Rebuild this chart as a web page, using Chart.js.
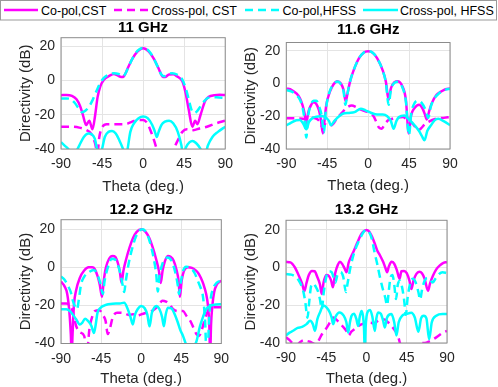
<!DOCTYPE html>
<html>
<head>
<meta charset="utf-8">
<script src="https://cdn.jsdelivr.net/npm/chart.js@4.4.0/dist/chart.umd.min.js"></script>
<style>
  html, body { margin: 0; padding: 0; background: #fff; overflow: hidden; }
  body { width: 498px; height: 387px; position: relative; }
  canvas { position: absolute; }
  #legend { position: absolute; left: 0; top: 0; font-family: "Liberation Sans", Arial, sans-serif; }
</style>
</head>
<body>
<canvas id="p1" width="240" height="200" style="left:0;top:0"></canvas>
<canvas id="p2" width="258" height="200" style="left:240px;top:0"></canvas>
<canvas id="p3" width="240" height="196" style="left:0;top:193px"></canvas>
<canvas id="p4" width="258" height="196" style="left:240px;top:193px"></canvas>
<svg id="legend" width="498" height="22">
  <rect x="0.5" y="0.5" width="496" height="19.5" fill="#fff" stroke="#9a9a9a"/>
  <line x1="4" y1="10" x2="38" y2="10" stroke="#ff00ff" stroke-width="2.4"/>
  <text x="41" y="15" font-size="12.5">Co-pol,CST</text>
  <line x1="114" y1="10" x2="148" y2="10" stroke="#ff00ff" stroke-width="2.4" stroke-dasharray="8 5"/>
  <text x="151.5" y="15" font-size="12.5">Cross-pol, CST</text>
  <line x1="245" y1="10" x2="280" y2="10" stroke="#00ffff" stroke-width="2.4" stroke-dasharray="8 5"/>
  <text x="282.5" y="15" font-size="12.5">Co-pol,HFSS</text>
  <line x1="363" y1="10" x2="398" y2="10" stroke="#00ffff" stroke-width="2.4"/>
  <text x="400" y="15" font-size="12.5">Cross-pol, HFSS</text>
</svg>
<script>
// axes
const thetaTicks = [-90, -45, 0, 45, 90];
const dbTicks = [-40, -20, 0, 20];
const titles = ['11 GHz', '11.6 GHz', '12.2 GHz', '13.2 GHz'];
const seriesNames = ['Co-pol,CST', 'Cross-pol, CST', 'Co-pol,HFSS', 'Cross-pol, HFSS'];

// [theta deg, directivity dB]
// 11 GHz
const coCst11 = [[-90,-8.6],[-84,-8.4],[-78,-9],[-73,-11],[-69,-15],[-66,-20],[-62.5,-26],[-59,-23.5],[-55.5,-28.5],[-52.5,-20],[-50,-10],[-47,-3.5],[-43,0.5],[-37,2.7],[-32,3.8],[-28,3],[-24,2],[-21,2.5],[-17,7],[-12,12.5],[-6,17],[0,18.8],[6,17],[12,12.5],[17,7],[21,2.5],[24,2],[28.5,3.5],[33,3.6],[37,2.5],[43,-0.4],[46.5,-7],[50,-17],[54,-27],[57,-23.5],[59.5,-25.5],[63,-20],[68,-12],[72,-9.5],[78,-8.6],[84,-8.3],[90,-8.5]];
const xCst11 = [[-90,-27],[-80,-27],[-70,-27.5],[-62,-29],[-57,-31],[-53,-36],[-50,-42],[-48,-33],[-45,-27.5],[-40,-25.5],[-30,-25.5],[-20,-25.5],[-13,-24.3],[-6,-23],[0,-23],[4,-24.5],[8,-29],[12,-35],[15,-40],[18,-44],[25,-44],[32,-41],[38,-35],[43,-30],[48,-28.5],[55,-29],[62,-28],[70,-27],[80,-25],[90,-23.5]];
const coHfss11 = [[-90,-10.5],[-84,-10.5],[-79,-11],[-75,-13],[-71,-16],[-67,-18.5],[-63,-17.5],[-59,-15],[-55,-11],[-51,-6],[-47,-1.5],[-43,1.5],[-37,3.5],[-32,4.3],[-27,3.8],[-23,2.5],[-20,3.5],[-16,8],[-11,13.5],[-6,17.5],[0,19],[6,17.5],[11,13.5],[16,8],[20,3.5],[23,2.5],[27,3.8],[32,4.3],[37,3.5],[43,0.5],[47,-5],[50,-11],[53,-17],[56,-19],[59,-18],[63,-15],[67,-12],[72,-10],[80,-9.8],[90,-10.2]];
const xHfss11 = [[-90,-36],[-86,-38],[-82,-40],[-78,-43],[-74,-42],[-70,-38],[-65,-33],[-60,-31],[-56,-31.5],[-53,-34],[-50,-41],[-48,-44],[-45,-40],[-42,-33],[-38,-30],[-34,-29.5],[-30,-31],[-26,-35],[-22,-40],[-19,-45],[-17,-40],[-14,-30],[-10,-25],[-5,-22],[0,-21],[5,-22],[10,-26],[13,-30],[15,-33],[17,-30],[20,-26],[24,-24],[28.5,-23.5],[33,-25],[38,-30],[42,-38],[44,-44],[47,-39],[51,-36],[54,-35.3],[58,-36.5],[63,-40],[67,-45],[71,-38],[76,-33],[82,-30],[90,-27]];

// 11.6 GHz
const coCst116 = [[-90,-3],[-84,-4],[-79,-6],[-75,-9],[-72,-13.5],[-70,-18],[-68,-24.5],[-66,-18],[-63.5,-14],[-60,-11.5],[-57,-12.5],[-54,-16.5],[-52,-22],[-49.8,-30.5],[-47.5,-20],[-46,-13],[-42,-5],[-38,-0.5],[-34,1.4],[-30,0],[-27,-4],[-24.7,-11],[-23,-7],[-20,1],[-16,8],[-10,15.5],[-5,18.8],[0,19.7],[5,18.8],[10,15.3],[16,8],[19.5,1],[22.5,-10],[25,-3],[29,0.8],[32.5,1.4],[37,-1],[41.5,-10],[44.6,-30.5],[47,-20],[51,-15],[56,-13],[60,-15.5],[62.5,-19],[64.5,-22],[67,-17],[70,-12],[75,-7],[80,-5],[85,-3.5],[90,-3.1]];
const xCst116 = [[-90,-21.3],[-80,-21.3],[-72,-21.5],[-67,-22],[-62,-21],[-57,-21.5],[-53,-23.5],[-50,-27],[-47,-25],[-43,-26],[-39,-25],[-34,-21],[-29,-18],[-24,-15],[-18,-13.4],[-13,-14.5],[-8,-16],[-3,-17],[2,-18],[6,-20],[9,-23.5],[12,-27],[15,-27.6],[18,-25],[22,-22.5],[27,-21.5],[33,-20.8],[38,-20.5],[43,-22],[47,-23.5],[51,-26],[55,-28.6],[58,-27.5],[62,-25],[66,-23.5],[75,-21.5],[83,-21],[90,-20.5]];
const coHfss116 = [[-90,-4],[-84,-5],[-79,-7],[-75,-10],[-72,-15],[-70,-22],[-68,-33],[-66,-20],[-63,-13],[-60,-10.5],[-57,-10.5],[-54,-14],[-51,-20],[-48.7,-30],[-46.5,-16],[-43,-6],[-38,-0.5],[-34,1.2],[-30,-0.5],[-27,-5],[-25,-13],[-23,-7],[-20,1],[-16,8],[-10,15.5],[-5,18.8],[0,19.7],[5,18.8],[10,15.3],[16,8],[19.5,0.5],[22.5,-13],[25,-4],[29,0.5],[32.5,1],[37,-1.5],[41.5,-11],[44.8,-31.5],[47.5,-18],[51,-12],[55,-10.5],[59,-12],[63,-16],[66,-21],[69,-14],[73,-9],[78,-6],[84,-4],[90,-3.2]];
const xHfss116 = [[-90,-25.6],[-85,-24],[-79,-22.5],[-75,-22.3],[-72,-24],[-70,-26],[-68,-28],[-65,-23.5],[-61,-21],[-57,-20.3],[-53,-20],[-50,-20],[-46,-21],[-43,-23],[-41,-25.5],[-38,-23.5],[-34,-21],[-28,-18.5],[-21,-18],[-15,-17.5],[-8,-15.4],[-3,-16.4],[3,-17.9],[10,-19],[16,-19],[21,-20],[25,-23],[28,-27.6],[31,-23],[34,-20.5],[40,-19.5],[45,-22],[51,-25.5],[56,-29],[59,-32],[62,-34.7],[65,-29],[69,-25.6],[73,-22.5],[77,-21.5],[83,-23],[90,-25.5]];

// 12.2 GHz
const coCst122 = [[-90,-7.5],[-86,-10],[-83,-14],[-80.5,-24],[-79,-35],[-78,-46],[-77,-35],[-75.5,-20],[-73,-12],[-69,-5.7],[-64,-1.7],[-59,0],[-55,0],[-52,-1],[-49,-4.5],[-46.5,-9],[-44,-15.5],[-42,-7],[-39.5,0],[-36,4.5],[-32,6],[-29,5.5],[-26,2],[-24,-2],[-22,-8.2],[-20,-2],[-17,4],[-13,10.5],[-9,15.5],[-5,18.6],[0,20],[5,18.6],[9,15.5],[13,10.5],[17,4],[20,-2],[22,-8.2],[24,-2],[26.5,3],[30,6],[33,5.5],[36.5,3.5],[39.5,-1],[42,-7],[43.5,-15.5],[45.5,-7],[48,-2],[52.5,0],[57,-0.3],[61,-1.5],[64,-3],[67,-5.5],[70,-9],[73,-14],[75,-20],[76.5,-30],[77.5,-46],[78.5,-30],[80,-20],[82,-13],[85,-9],[90,-7]];
const xCst122 = [[-90,-19],[-84,-19],[-80,-20],[-77,-23],[-73,-30.8],[-69,-34],[-64,-36],[-61,-45],[-58,-32],[-55,-26],[-52,-23],[-47,-22.5],[-43,-25],[-40,-28],[-37.5,-35],[-35.5,-33],[-32,-26.4],[-27,-23.8],[-20,-24],[-14,-25],[-9,-24.7],[-4,-25.5],[0,-24.7],[5,-24],[10,-23.5],[15,-22],[19,-20.3],[24,-17.5],[28,-18],[32,-19.5],[36,-22],[42,-23],[47,-23],[51,-25.6],[55,-28],[59,-32],[62,-35],[65,-36],[68,-33],[71,-28],[75,-23],[80,-21],[85,-21],[90,-21]];
const coHfss122 = [[-90,-4.8],[-86,-6.5],[-82,-9.9],[-79,-13],[-77,-17],[-74,-21],[-72,-22],[-70,-17],[-67.5,-9],[-64,-5],[-58,-2.3],[-53,-1.4],[-49,-4],[-46,-8],[-43,-14],[-41,-7],[-37,0.5],[-33,4.5],[-29,4],[-26,1],[-23,-4],[-20.5,-10],[-19,-13],[-17.5,-8],[-14,2],[-10,10],[-6,16],[-2,19.3],[2,20],[6,18],[10,13],[14,5],[17,-4],[18.7,-12.7],[20.5,-5],[24,2],[27,4.5],[30,5.2],[34,3.5],[38,-2],[41,-9],[42.5,-14],[44.5,-8],[47,-2],[50.6,0.3],[56,-0.5],[60,-3],[64,-7.5],[67,-11],[69,-14],[70.5,-20],[72,-30],[73,-42],[75,-42],[76,-30],[78,-17],[81,-11],[85,-8],[90,-7]];
const xHfss122 = [[-90,-22],[-84,-22],[-80,-23],[-77,-24.7],[-73,-27.3],[-69,-30],[-66,-29],[-63,-27],[-60,-28],[-56,-30.6],[-53,-34.5],[-51,-30],[-49,-23.8],[-45,-21],[-41,-20],[-37,-19.4],[-32,-19.1],[-24,-19],[-19,-18.6],[-15,-22],[-12,-26],[-9.4,-30],[-7,-25],[-4,-22],[0,-20.3],[4,-21.5],[7,-25],[9.4,-31],[12,-24],[15,-21],[17,-20.3],[20.6,-22],[23.5,-26],[25.5,-31],[27.5,-25],[30,-21.2],[34,-21.5],[38,-25],[41,-28.7],[44,-33],[47,-36],[50,-40],[54,-44],[58,-42],[62,-39],[66,-31],[69.5,-26],[73,-22],[79,-20],[84,-19.5],[90,-19.4]];

// 13.2 GHz
const coCst132 = [[-90,3],[-85,2.7],[-80,0],[-76,-4],[-72,-8.5],[-69.5,-12.5],[-67,-8],[-64.5,-4],[-61,-1.8],[-58,-2],[-55,-5],[-52,-9],[-50,-14],[-48,-8],[-45,-4],[-42,-4.5],[-39.5,-7],[-37.5,-10.5],[-35,-3],[-32,1.5],[-29.7,3],[-27,1.8],[-24.5,-0.5],[-22.3,-2.5],[-20,2.5],[-17,6],[-14,9],[-10,13.5],[-6,17.5],[-3,19.2],[0,19.9],[3,19],[6,16.5],[9,13],[12,9],[15,6.5],[18.6,3],[21,0],[23,-2.5],[25,0.5],[27.9,3],[31,2],[34,-1.5],[37,-6],[39,-2],[42,-1.8],[45,-3],[48,-7],[50.2,-11.4],[52.5,-7],[55.8,-3.4],[59,-2.3],[62,-3],[65,-6],[68.8,-12.3],[71,-8.5],[74.4,-4.3],[78,-1],[82,1.1],[86,2.5],[90,2.8]];
const xCst132 = [[-90,-37],[-86,-38.5],[-82,-40.5],[-78,-41],[-74,-39.5],[-70,-38.5],[-66,-39],[-62,-39.5],[-58,-40.5],[-54,-39],[-50,-35.5],[-46,-33],[-42,-30],[-39,-27.5],[-37,-26.5],[-34,-27.5],[-30,-29.5],[-26,-31.5],[-22,-34],[-20,-36],[-17,-34],[-13,-32.5],[-9,-31],[-5,-30],[0,-29.5],[4,-29.3],[8,-29.5],[12,-28.5],[16,-27.5],[20,-27.5],[24,-29],[28,-31],[32,-33.5],[35,-36],[38,-41],[42,-45],[48,-46],[54,-43],[59.5,-40],[65,-40],[70.7,-39],[78,-37],[85.5,-34.5],[90,-33.6]];
const coHfss132 = [[-90,-3.5],[-84,-3.8],[-79,-5],[-75,-7.5],[-71,-12],[-68.5,-18],[-66,-26.6],[-64,-18],[-62,-10],[-59.5,-8.5],[-57,-10],[-54,-13],[-52,-17],[-50,-22],[-48,-14],[-45,-5],[-42,-2],[-39,-2.5],[-37,-5],[-35,-8],[-32.5,-4],[-29,-2.5],[-26,-5],[-23,-13],[-21,-8],[-18,0],[-14,7.5],[-10,12.5],[-6,16.5],[-3,19],[0,20],[3,18.7],[6,15],[9,8],[12,1.8],[15,-5],[18,-11],[21,-16],[23,-20],[25,-12],[27,-5],[29,-4],[31,-9],[33,-16.7],[35,-9],[37.5,-7],[40,-11],[42,-17],[44,-25],[46,-16],[49,-8],[52,-6],[55,-8],[58,-13],[60,-17],[62,-12],[65,-7],[68,-5.5],[71,-6.5],[74,-8],[77,-6],[81,-3.5],[85,-2.5],[90,-3]];
const xHfss132 = [[-90,-36],[-86,-34.5],[-82,-33.5],[-77,-32],[-72,-31.5],[-67,-30],[-63,-28.2],[-60,-30],[-57.6,-33.6],[-55,-27.5],[-52,-23.8],[-48.3,-20.2],[-45,-21],[-41,-23.8],[-39,-26.5],[-37.2,-30],[-35,-26.5],[-30,-23.8],[-25.5,-25.5],[-22.5,-29],[-20.5,-34.5],[-18.5,-29],[-16.7,-25.6],[-14,-24.5],[-11.5,-27],[-9.3,-31],[-7.5,-26],[-5.6,-23],[-4,-25.5],[-2.8,-32],[-1.9,-45],[-1,-32],[0,-26],[1.9,-23],[4,-22.5],[6.5,-26],[9.3,-33.6],[11,-27],[13,-23.8],[16,-24.5],[18.5,-28],[20.5,-31.8],[23,-26.5],[27.9,-24.7],[31,-29],[33.5,-36],[36,-29],[40,-25.5],[44.6,-24.7],[50,-24],[54,-26.5],[58,-34],[61,-27],[64,-25.6],[67,-27],[70,-38],[73,-29],[78,-25.6],[85,-24.7],[90,-24.7]];

const panelSeries = [
    [coCst11, xCst11, coHfss11, xHfss11],
    [coCst116, xCst116, coHfss116, xHfss116],
    [coCst122, xCst122, coHfss122, xHfss122],
    [coCst132, xCst132, coHfss132, xHfss132]
];

// where each axes box sits inside its canvas
const panelLayout = [
    {id: 'p1', yw: 61,   pr: 13.5, tt: 18.5, tb: 1.2, xh: 51,   yt: 16.5, xb: 4.5},
    {id: 'p2', yw: 46.3, pr: 48,   tt: 21.3, tb: 3.2, xh: 51,   yt: 2,    xb: 5},
    {id: 'p3', yw: 61,   pr: 18.7, tt: 7.7,  tb: 1.0, xh: 45.5, yt: 16.5, xb: 1},
    {id: 'p4', yw: 46,   pr: 51,   tt: 7.7,  tb: 1.6, xh: 46,   yt: 2,    xb: 1.5}
];

const MAGENTA = '#ff00ff';
const CYAN = '#00ffff';
const DASH = [8, 5];
const TEXT = '#262626';

Chart.defaults.font.family = '"Liberation Sans", Arial, Helvetica, sans-serif';

// box round the axes, like matlab's "box on"
const frame = {
    id: 'frame',
    afterDatasetsDraw(chart) {
        const a = chart.chartArea;
        const ctx = chart.ctx;
        ctx.save();
        ctx.strokeStyle = '#8c8c8c';
        ctx.lineWidth = 1;
        ctx.strokeRect(a.left, a.top, a.right - a.left, a.bottom - a.top);
        ctx.restore();
    }
};

function pts(arr) {
    return arr.map(p => ({x: p[0], y: p[1]}));
}

panelLayout.forEach(function(lay, i) {
    const s = panelSeries[i];
    const ctx = document.getElementById(lay.id).getContext('2d');
    new Chart(ctx, {
        type: 'line',
        data: {
            datasets: [
                {label: seriesNames[0], data: pts(s[0]), borderColor: MAGENTA, order: 4},
                {label: seriesNames[1], data: pts(s[1]), borderColor: MAGENTA, borderDash: DASH, order: 3},
                {label: seriesNames[2], data: pts(s[2]), borderColor: CYAN, borderDash: DASH, order: 2},
                {label: seriesNames[3], data: pts(s[3]), borderColor: CYAN, order: 1}
            ]
        },
        options: {
            responsive: false,
            animation: false,
            layout: {padding: {left: 0, right: lay.pr, top: 0, bottom: 0}},
            elements: {
                point: {radius: 0},
                line: {borderWidth: 2.5, cubicInterpolationMode: 'monotone', fill: false, borderCapStyle: 'butt'}
            },
            plugins: {
                legend: {display: false},
                tooltip: {enabled: false},
                title: {
                    display: true,
                    text: titles[i],
                    fullSize: false,
                    color: '#000',
                    font: {size: 15, weight: 'bold'},
                    padding: {top: lay.tt, bottom: lay.tb}
                }
            },
            scales: {
                x: {
                    type: 'linear',
                    min: -90,
                    max: 90,
                    afterBuildTicks: sc => { sc.ticks = thetaTicks.map(v => ({value: v})); },
                    afterFit: sc => { sc.height = lay.xh; },
                    grid: {color: '#e4e4e4', drawTicks: false},
                    border: {display: false},
                    ticks: {color: TEXT, font: {size: 14}, padding: 7, maxRotation: 0, autoSkip: false},
                    title: {display: true, text: 'Theta (deg.)', color: TEXT, font: {size: 15}, padding: {top: 0, bottom: lay.xb}}
                },
                y: {
                    min: -40,
                    max: 25,
                    afterBuildTicks: sc => { sc.ticks = dbTicks.map(v => ({value: v})); },
                    afterFit: sc => { sc.width = lay.yw; },
                    grid: {color: '#e4e4e4', drawTicks: false},
                    border: {display: false},
                    ticks: {color: TEXT, font: {size: 14}, padding: 6},
                    title: {display: true, text: 'Directivity (dB)', color: TEXT, font: {size: 15}, padding: {top: lay.yt, bottom: 0}}
                }
            }
        },
        plugins: [frame]
    });
});
</script>
</body>
</html>
